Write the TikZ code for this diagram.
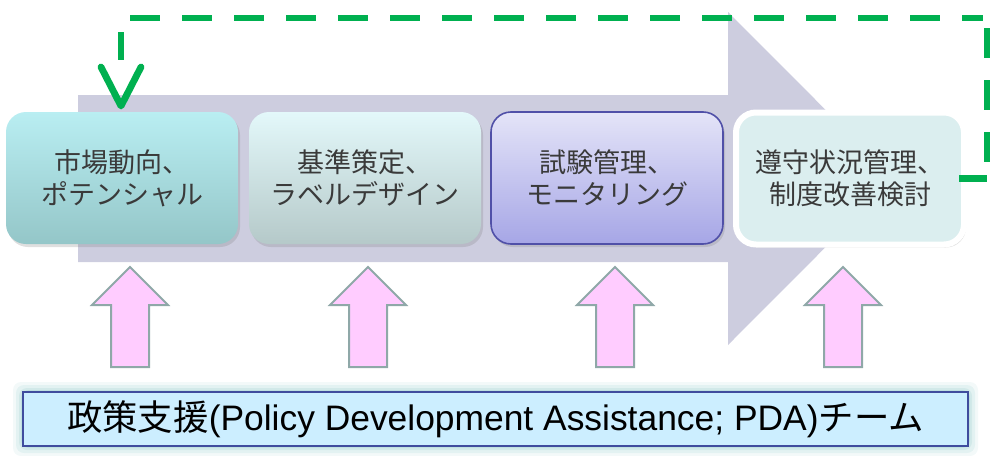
\documentclass[tikz,border=0pt]{standalone}
\usepackage{fontspec}
\setmainfont{Liberation Sans}
\newfontfamily\cjk{Noto Sans CJK JP}
\usetikzlibrary{arrows.meta,shadows}
\definecolor{bigarrow}{HTML}{CDCDDF}
\definecolor{gline}{HTML}{00B050}
\definecolor{pinkf}{HTML}{FFCCFF}
\definecolor{pinkd}{HTML}{8FA8A8}
\definecolor{txt}{HTML}{3A3A3A}
\definecolor{bluebox}{HTML}{CCEEFF}
\definecolor{blueedge}{HTML}{3F4C9E}
\definecolor{glow}{HTML}{9CCFCF}
\definecolor{b1top}{HTML}{B9EEF2}
\definecolor{b1bot}{HTML}{94C6C8}
\definecolor{b2top}{HTML}{E3F8FA}
\definecolor{b2bot}{HTML}{B5C9C9}
\definecolor{b3top}{HTML}{E4E4F8}
\definecolor{b3bot}{HTML}{A6A6E6}
\definecolor{b3edge}{HTML}{5050A8}
\definecolor{b4fill}{HTML}{DBEEEF}
\tikzset{
  stagebox/.style={rounded corners=10pt, minimum width=116pt, minimum height=66pt,
    align=center, text=txt, font=\cjk\fontsize{13.5}{16}\selectfont,
    drop shadow={shadow xshift=1pt, shadow yshift=-1.5pt, opacity=0.25}},
  uparrow/.style={fill=pinkf, draw=pinkd, line width=1pt},
  gsolid/.style={draw=gline, line width=3.4pt},
  feedback/.style={gsolid, dash pattern=on 15pt off 11pt},
}
\begin{document}
\begin{tikzpicture}[x=0.5pt,y=-0.5pt]
\useasboundingbox (0,0) rectangle (1000,455);
% big grey arrow
\fill[bigarrow] (78,95) -- (728,95) -- (728,12) -- (894,178.5) -- (728,345) -- (728,262) -- (78,262) -- cycle;
% stage boxes
\node[stagebox, top color=b1top, bottom color=b1bot] (b1) at (122,178) {市場動向、\\ポテンシャル};
\node[stagebox, top color=b2top, bottom color=b2bot] (b2) at (365,178) {基準策定、\\ラベルデザイン};
\node[stagebox, top color=b3top, bottom color=b3bot, draw=b3edge, line width=0.8pt] (b3) at (607,178) {試験管理、\\モニタリング};
\node[stagebox, fill=b4fill, draw=white, line width=3pt, minimum width=114pt, minimum height=66pt,
  drop shadow={shadow xshift=1pt, shadow yshift=-1pt, opacity=0.3}] (b4) at (850,178.5) {遵守状況管理、\\制度改善検討};
% feedback loop
\coordinate (fr) at (987,178.5);
\coordinate (frv1) at (987,163);
\coordinate (frv2) at (987,28);
\coordinate (fth1) at (983,18);
\coordinate (fth2) at (130,18);
\coordinate (fvs) at (121,32);
\coordinate (fve) at (121,60);
\coordinate (fend) at (121,106);
\draw[gsolid] ([xshift=-4pt]b4.east) -- (fr);
\draw[feedback] (frv2) -- (frv1);
\draw[feedback] (fth2) -- (fth1);
\draw[gsolid] (fvs) -- (fve);
\draw[gsolid, line cap=round, line join=round] (101,67) -- (fend) -- (141,67);
% support arrows
\foreach \cx in {130,368,615,843}{
  \draw[uparrow] (\cx,267) -- (\cx+38,305) -- (\cx+19,305) -- (\cx+19,367) -- (\cx-19,367) -- (\cx-19,305) -- (\cx-38,305) -- cycle;
}
% bottom team box with glow
\foreach \e/\o in {10/0.12,7/0.18,4/0.25,2/0.35}{
  \fill[glow, opacity=\o, rounded corners=4pt] (23-\e,392-\e) rectangle (968+\e,446+\e);
}
\node[fill=bluebox, draw=blueedge, line width=1pt, minimum width=472.5pt, minimum height=27pt, inner sep=0pt,
  font=\fontsize{17.7}{20}\selectfont] (team) at (495.5,419)
  {{\cjk 政策支援}(Policy Development Assistance; PDA){\cjk チーム}};
\end{tikzpicture}
\end{document}
